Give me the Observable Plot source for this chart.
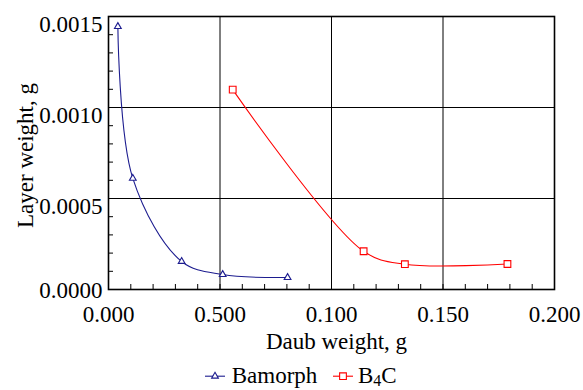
<!DOCTYPE html>
<html><head><meta charset="utf-8">
<script src="https://cdn.jsdelivr.net/npm/d3@7"></script>
<script src="https://cdn.jsdelivr.net/npm/@observablehq/plot@0.6"></script>
<style>
body{margin:0;background:#fff;font-family:"Liberation Serif","Times New Roman",serif;}
#wrap{position:relative;width:583px;height:390px;overflow:hidden;background:#fff;}
#legend{position:absolute;left:0;top:358px;width:583px;height:32px;font-size:23px;line-height:23px;}
#legend .sw{position:absolute;top:0;}
#legend .lab{position:absolute;top:6px;white-space:nowrap;}
#legend sub{font-size:16px;vertical-align:baseline;position:relative;top:3px;}
</style></head><body><div id="wrap"></div>
<script>
const seriesNames = ["Bamorph", "B4C"];
const seriesColors = ["#1c1c8f", "#ff0000"];
const bamorphX = [0.0042, 0.0109, 0.0328, 0.0512, 0.0803];
const bamorphY = [0.001445, 0.000611, 0.000154, 0.0000823, 0.0000659];
const b4cX = [0.0557, 0.1144, 0.1329, 0.1789];
const b4cY = [0.001098, 0.000210, 0.000139, 0.000140];
const xTicks = [0, 0.05, 0.1, 0.15, 0.2];
const xTickLabels = ["0.000", "0.500", "0.100", "0.150", "0.200"];
const yTicks = [0, 0.0005, 0.001, 0.0015];
const yTickLabels = ["0.0000", "0.0005", "0.0010", "0.0015"];
const xMinor = d3.range(0, 21).map(i => i / 100);
const yMinor = d3.range(0, 16).map(i => i / 10000);
const xLabel = "Daub weight, g";
const yLabel = "Layer weight, g";

const bam = bamorphX.map((x, i) => ({x, y: bamorphY[i], s: seriesNames[0]}));
const b4c = b4cX.map((x, i) => ({x, y: b4cY[i], s: seriesNames[1]}));

const plot = Plot.plot({
  width: 583, height: 362,
  marginLeft: 108, marginRight: 29, marginTop: 16, marginBottom: 73,
  style: {fontFamily: "Liberation Serif, Times New Roman, serif", fontSize: "23px", background: "white", color: "black"},
  x: {domain: [0, 0.2], label: null},
  y: {domain: [0, 0.0015], label: null},
  marks: [
    Plot.gridX([0.05, 0.1, 0.15], {stroke: "black", strokeOpacity: 1, strokeWidth: 1}),
    Plot.gridY([0.0005, 0.001], {stroke: "black", strokeOpacity: 1, strokeWidth: 1}),
    Plot.axisX(xMinor, {anchor: "bottom", tickSize: 5, insetBottom: 5, text: null, stroke: "black"}),
    Plot.axisY(yMinor, {anchor: "left", tickSize: 5, insetLeft: 5, text: null, stroke: "black"}),
    Plot.axisX(xTicks, {anchor: "bottom", tickSize: 0, tickPadding: 16,
      tickFormat: d => xTickLabels[xTicks.indexOf(d)], fill: "black"}),
    Plot.axisY(yTicks.slice(1), {anchor: "left", tickSize: 0, tickPadding: 6, dy: 8.5,
      tickFormat: d => yTickLabels[yTicks.indexOf(d)], fill: "black"}),
    Plot.axisY(yTicks.slice(0, 1), {anchor: "left", tickSize: 0, tickPadding: 6, dy: 1,
      tickFormat: d => yTickLabels[yTicks.indexOf(d)], fill: "black"}),
    Plot.line(bam, {x: "x", y: "y", stroke: seriesColors[0], strokeWidth: 1.1, curve: "catmull-rom"}),
    Plot.line(b4c, {x: "x", y: "y", stroke: seriesColors[1], strokeWidth: 1.1, curve: "catmull-rom"}),
    Plot.dot(bam, {x: "x", y: "y", symbol: "triangle", r: 2.5, stroke: seriesColors[0], fill: "white", strokeWidth: 1.1}),
    Plot.dot(b4c, {x: "x", y: "y", symbol: "square", r: 3.8, stroke: seriesColors[1], fill: "white", strokeWidth: 1.1}),
    Plot.frame({stroke: "black", strokeWidth: 1.6}),
    Plot.text([xLabel], {frameAnchor: "bottom", textAnchor: "middle", lineAnchor: "bottom", dx: 5, dy: 59, fill: "black", fontSize: 23}),
    Plot.text([yLabel], {frameAnchor: "left", textAnchor: "middle", lineAnchor: "bottom", rotate: -90, dx: -76, dy: 2.5, fill: "black", fontSize: 23})
  ]
});
const wrap = document.getElementById("wrap");
plot.style.display = "block";
wrap.appendChild(plot);

const legend = document.createElement("div");
legend.id = "legend";
const items = [
  {sw: 205, lab: 231.7, html: seriesNames[0], sym: "triangle", color: seriesColors[0]},
  {sw: 333, lab: 358, html: "B<sub>4</sub>C", sym: "square", color: seriesColors[1]}
];
for (const it of items) {
  const s = document.createElementNS("http://www.w3.org/2000/svg", "svg");
  s.setAttribute("class", "sw");
  s.setAttribute("width", 20); s.setAttribute("height", 30);
  s.style.left = it.sw + "px";
  const sym = it.sym === "triangle" ? d3.symbol(d3.symbolTriangle, Math.PI * 2.5 * 2.5)() : d3.symbol(d3.symbolSquare, Math.PI * 3.8 * 3.8)();
  s.innerHTML = `<line x1="0" x2="20" y1="18.2" y2="18.2" stroke="${it.color}" stroke-width="1.1"/>` +
    `<path d="${sym}" transform="translate(10,18.2)" fill="white" stroke="${it.color}" stroke-width="1.1"/>`;
  legend.appendChild(s);
  const l = document.createElement("span");
  l.className = "lab";
  l.style.left = it.lab + "px";
  l.innerHTML = it.html;
  legend.appendChild(l);
}
wrap.appendChild(legend);
</script></body></html>
